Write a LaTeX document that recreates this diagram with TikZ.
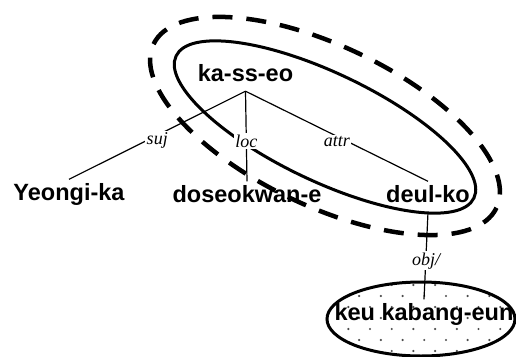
\documentclass[tikz,border=0pt]{standalone}
\usepackage{fontspec}
\setmainfont{Liberation Serif}
\setsansfont{Liberation Sans}
\usetikzlibrary{positioning}
\tikzset{
  word/.style={font=\sffamily\bfseries\fontsize{23.5}{28}\selectfont, anchor=base,
               inner sep=3pt, text height=17.5pt, text depth=7pt},
  rel/.style={font=\itshape\fontsize{18}{21}\selectfont, fill=white,
              inner sep=1.5pt, yshift=-5pt},
  edge/.style={line width=1.2pt},
  ring/.style={line width=3pt},
  dashring/.style={line width=4.5pt, dash pattern=on 20pt off 14pt},
}

\begin{document}
\begin{tikzpicture}[x=1pt, y=-1pt]
    \useasboundingbox (0,0) rectangle (516,356);
    % Dots in the object ellipse
    \begin{scope}
      \clip (421,319) ellipse [x radius=94, y radius=37];
      \foreach \r in {0,...,6}
        \foreach \c in {0,...,9}
          \fill[black!70] ({326.6+21.7*\c+10.85*mod(\r,2)}, {285+11*\r}) circle (1.2pt);
    \end{scope}
    \draw[ring] (421,319) ellipse [x radius=94, y radius=37];
    % Ellipses
    \draw[ring, rotate around={-25.5:(325,127)}] (325,127) ellipse [x radius=165, y radius=54];
    \draw[dashring, rotate around={-25.5:(325,126)}] (325,126) ellipse [x radius=190, y radius=80];
    % Words
    \node[word] (kasseo) at (245.5,81) {ka-ss-eo};
    \node[word] (yeongi) at (69,200) {Yeongi-ka};
    \node[word] (doseok) at (247,202) {doseokwan-e};
    \node[word] (deulko) at (428,202) {deul-ko};
    \node[word] (kabang) at (424,320) {keu kabang-eun};
    % Edges
    \draw[edge] (kasseo.south) -- node[rel] {suj} (yeongi.north);
    \draw[edge] (kasseo.south) -- node[rel] {loc} (doseok.north);
    \draw[edge] (kasseo.south) -- node[rel] {attr} (deulko.north);
    \draw[edge] (deulko.south) -- node[rel] {obj/} (kabang.north);
\end{tikzpicture}
\end{document}
